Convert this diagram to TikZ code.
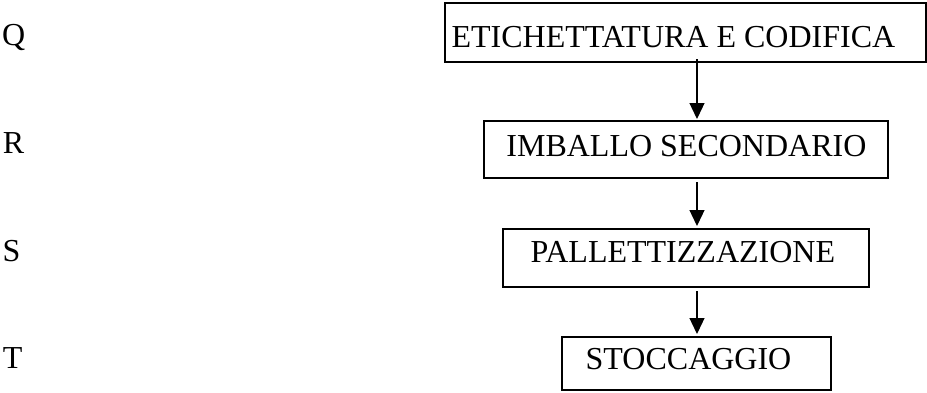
\documentclass[tikz,border=0pt]{standalone}
\usepackage{fontspec}
\setmainfont{Liberation Serif}
\usetikzlibrary{arrows.meta}
\begin{document}
\begin{tikzpicture}[x=1pt,y=-1pt,
  box/.style={draw=black,line width=1.4pt,inner sep=0pt,outer sep=0pt,anchor=north west},
  lbl/.style={inner sep=0pt,outer sep=0pt,anchor=base west,font=\fontsize{32}{36}\selectfont},
  arr/.style={draw=black,line width=1.3pt,-{Triangle[width=15pt,length=16pt]}}]
\useasboundingbox[fill=white] (0,0) rectangle (927,392);
% boxes
\node[box,minimum width=481,minimum height=59] (b1) at (445,3) {};
\node[box,minimum width=404,minimum height=57] (b2) at (484,121) {};
\node[box,minimum width=366,minimum height=58] (b3) at (503,229) {};
\node[box,minimum width=269,minimum height=53] (b4) at (562,337) {};
% box texts
\node[lbl] (t1) at (451.6,47) {ETICHETTATURA E CODIFICA};
\node[lbl] (t2) at (506.4,156) {IMBALLO SECONDARIO};
\node[lbl] (t3) at (530.5,262) {PALLETTIZZAZIONE};
\node[lbl] (t4) at (585.7,369) {STOCCAGGIO};
% side letters
\node[lbl] (q) at (2.2,45) {Q};
\node[lbl] (r) at (2.8,153) {R};
\node[lbl] (s) at (2.7,261) {S};
\node[lbl] (t) at (2.8,368) {T};
% arrows
\draw[arr] ([xshift=11.5pt,yshift=3pt]b1.south) -- ([xshift=11pt,yshift=2pt]b2.north);
\draw[arr] ([xshift=11pt,yshift=-4pt]b2.south) -- ([xshift=11pt,yshift=3pt]b3.north);
\draw[arr] ([xshift=11pt,yshift=-4pt]b3.south) -- ([xshift=0.5pt,yshift=3pt]b4.north);
\end{tikzpicture}
\end{document}
